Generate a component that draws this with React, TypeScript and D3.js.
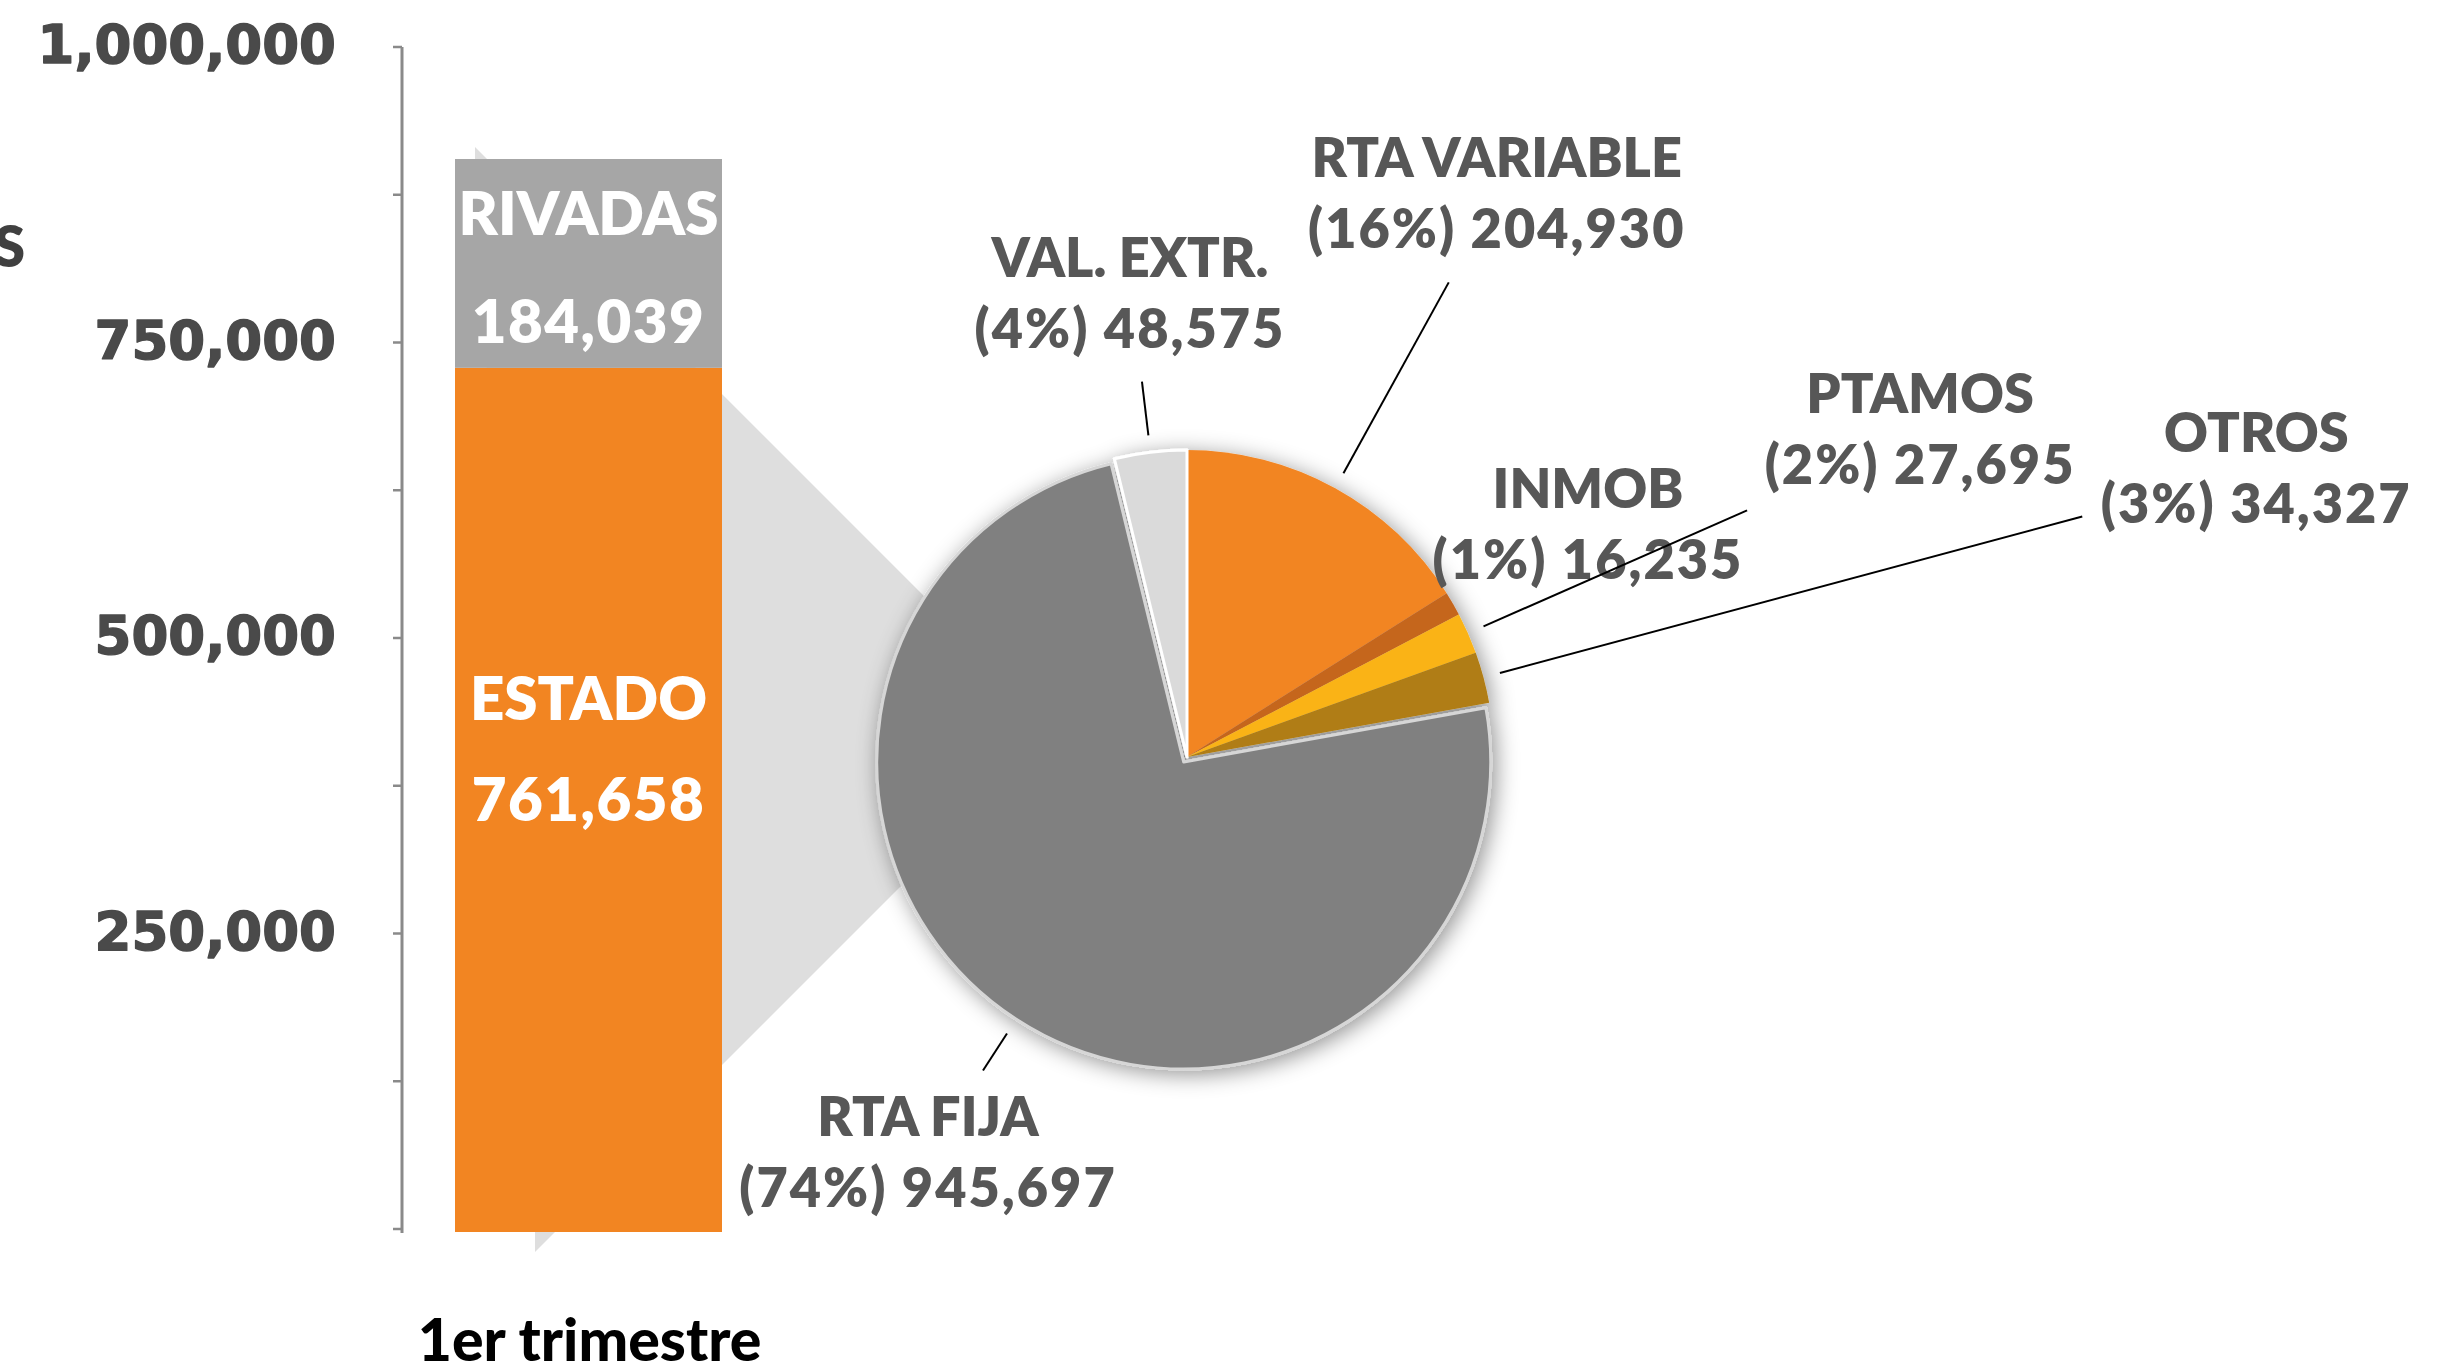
import React from "react";
import * as d3 from "d3";

// ---------- DATA ----------
const barCategories = ["1er trimestre"];
const barSeries = ["ESTADO", "RIVADAS"];
const barValues = [761658, 184039];

const pieCategories = ["RTA VARIABLE", "INMOB", "PTAMOS", "OTROS", "RTA FIJA", "VAL. EXTR."];
const pieValues = [204930, 16235, 27695, 34327, 945697, 48575];

const axisTickValues = [0, 125000, 250000, 375000, 500000, 625000, 750000, 875000, 1000000];
const axisLabelValues = [250000, 500000, 750000, 1000000];

const leftCaption = "S";

// ---------- STYLE / LAYOUT ----------
const W = 2443;
const H = 1372;
const barColors = ["#f28522", "#a6a6a6"];
const pieColors = ["#f28522", "#c5661f", "#fab315", "#b07d12", "#808080", "#dadada"];
const pieStrokes = ["none", "none", "none", "none", "#d6d6d6", "#ffffff"];
const labelColor = "#575757";
const LABEL_FONT = "Lato, 'Open Sans', sans-serif";

// bar label offsets below segment top: [name baseline, value baseline]
const barLabelOffsets = [
  [352, 453],
  [76, 184],
];

// pie label layout (per slice): leader outer radius, label offset from leader end, explode
const pieLabelLayout = [
  { leaderR: 542, dx: 48, dy: -105, explode: 0 },
  { leaderR: 0, dx: 135, dy: -96, explode: 0 },
  { leaderR: 612, dx: 173, dy: -97, explode: 0 },
  { leaderR: 927, dx: 174, dy: -65, explode: 0 },
  { leaderR: 368, dx: -55, dy: 66, explode: 6 },
  { leaderR: 378, dx: -12, dy: -105, explode: 0 },
];

export default function App() {
  const fmt = d3.format(",");
  const pct = d3.format(".0%");

  // axis (pasted-on value axis)
  const axisX = 402;
  const yAxis = d3.scaleLinear().domain([0, 1000000]).range([1229, 47]);

  // bar
  const xBand = d3.scaleBand<string>().domain(barCategories).range([455, 722]).padding(0);
  const yBar = d3.scaleLinear().domain([0, 1000000]).range([1232, 97.4]);
  const row: Record<string, number> = {};
  barSeries.forEach((s, i) => (row[s] = barValues[i]));
  const stacked = d3.stack<Record<string, number>>().keys(barSeries)([row]);
  const total = d3.sum(barValues);
  const bx0 = xBand(barCategories[0]) as number;
  const bw = xBand.bandwidth();
  const bcx = bx0 + bw / 2;

  // pie
  const cx = 1187;
  const cy = 757;
  const R = 307;
  const pieTotal = d3.sum(pieValues);
  const arcs = d3
    .pie<number>()
    .sort(null)
    .startAngle(0)
    .endAngle(Math.PI * 2)
    .value((d) => d)(pieValues);
  const arcGen = d3.arc<d3.PieArcDatum<number>>().innerRadius(0).outerRadius(R);
  const polar = (a: number, r: number) => [Math.sin(a) * r, -Math.cos(a) * r];

  // connector (bar-of-pie)
  const top = [bx0 + 20, yBar(total) - 12];
  const bot = [bx0 + 80, yBar(0) + 20];
  const d1 = cx - 187 - top[0];
  const d2 = cx - 187 - bot[0];
  const connector = [
    top,
    [top[0] + d1, top[1] + d1],
    [cx, cy],
    [bot[0] + d2, bot[1] - d2],
    bot,
    [bot[0], yBar(0)],
    [top[0], yBar(total)],
  ];

  return (
    <svg
      width={W}
      height={H}
      viewBox={`0 0 ${W} ${H}`}
      style={{ position: "absolute", left: 0, top: 0, display: "block", background: "#fff" }}
    >
      <defs>
        <filter id="pieShadow" x="-20%" y="-20%" width="140%" height="140%">
          <feDropShadow dx="4" dy="4" stdDeviation="11" floodColor="#000" floodOpacity="0.42" />
        </filter>
      </defs>
      <rect width={W} height={H} fill="#fff" />

      {/* left caption fragment */}
      <text x={25} y={267} textAnchor="end" fontFamily={LABEL_FONT} fontWeight={800} fontSize={56} fill="#404040">
        {leftCaption}
      </text>

      {/* value axis */}
      <line x1={axisX} x2={axisX} y1={yAxis(1000000)} y2={yAxis(0) + 4} stroke="#8a8a8a" strokeWidth={3} />
      {axisTickValues.map((v) => (
        <line key={v} x1={axisX - 9} x2={axisX} y1={yAxis(v)} y2={yAxis(v)} stroke="#8a8a8a" strokeWidth={2.5} />
      ))}
      {axisLabelValues.map((v) => (
        <text
          key={v}
          x={336}
          y={yAxis(v) - 3}
          dy="0.36em"
          textAnchor="end"
          fontFamily="'DejaVu Sans', Verdana, sans-serif"
          fontWeight={700}
          fontSize={53}
          fill="#4a4a4a"
          stroke="#4a4a4a"
          strokeWidth={1.4}
          strokeLinejoin="round"
        >
          {fmt(v)}
        </text>
      ))}

      {/* connector */}
      <polygon points={connector.map((p) => p.join(",")).join(" ")} fill="#dedede" />

      {/* stacked bar */}
      {stacked.map((s, i) => {
        const seg = s[0];
        const y0 = yBar(seg[1]);
        const y1 = yBar(seg[0]);
        return (
          <g key={s.key}>
            <rect x={bx0} y={y0} width={bw} height={y1 - y0} fill={barColors[i]} />
            <text x={bcx} y={y0 + barLabelOffsets[i][0]} textAnchor="middle" fontFamily={LABEL_FONT} fontWeight={800} fontSize={60} fill="#fff">
              {s.key}
            </text>
            <text x={bcx} y={y0 + barLabelOffsets[i][1]} textAnchor="middle" fontFamily={LABEL_FONT} fontWeight={800} fontSize={60} letterSpacing={1.5} fill="#fff">
              {fmt(barValues[i])}
            </text>
          </g>
        );
      })}
      <text x={bcx + 1} y={1361} textAnchor="middle" fontFamily={LABEL_FONT} fontWeight={900} fontSize={59} fill="#000">
        {barCategories[0]}
      </text>

      {/* pie */}
      <g transform={`translate(${cx},${cy})`} filter="url(#pieShadow)">
        {arcs.map((a, i) => {
          const mid = (a.startAngle + a.endAngle) / 2;
          const off = polar(mid, pieLabelLayout[i].explode);
          return (
            <path
              key={pieCategories[i]}
              d={arcGen(a) as string}
              transform={`translate(${off[0]},${off[1]})`}
              fill={pieColors[i]}
              stroke={pieStrokes[i]}
              strokeWidth={pieStrokes[i] === "none" ? 0 : 3}
              strokeLinejoin="round"
            />
          );
        })}
      </g>

      {/* pie labels */}
      <g transform={`translate(${cx},${cy})`}>
        {arcs.map((a, i) => {
          const L = pieLabelLayout[i];
          const mid = (a.startAngle + a.endAngle) / 2;
          const off = polar(mid, L.explode);
          const s = polar(mid, R + 17);
          const hasLeader = L.leaderR > 0;
          const e = hasLeader ? polar(mid, L.leaderR) : polar(mid, R);
          const lx = e[0] + off[0] + L.dx;
          const ly = e[1] + off[1] + L.dy;
          return (
            <g key={pieCategories[i]}>
              {hasLeader && (
                <line
                  x1={s[0] + off[0]}
                  y1={s[1] + off[1]}
                  x2={e[0] + off[0]}
                  y2={e[1] + off[1]}
                  stroke="#000"
                  strokeWidth={2}
                />
              )}
              <text x={lx} y={ly} textAnchor="middle" fontFamily={LABEL_FONT} fontWeight={800} fontSize={54} fill={labelColor}>
                {pieCategories[i]}
              </text>
              <text x={lx} y={ly + 71} textAnchor="middle" fontFamily={LABEL_FONT} fontWeight={800} fontSize={54} letterSpacing={2} fill={labelColor}>
                {`(${pct(a.value / pieTotal)}) ${fmt(a.value)}`}
              </text>
            </g>
          );
        })}
      </g>
    </svg>
  );
}
